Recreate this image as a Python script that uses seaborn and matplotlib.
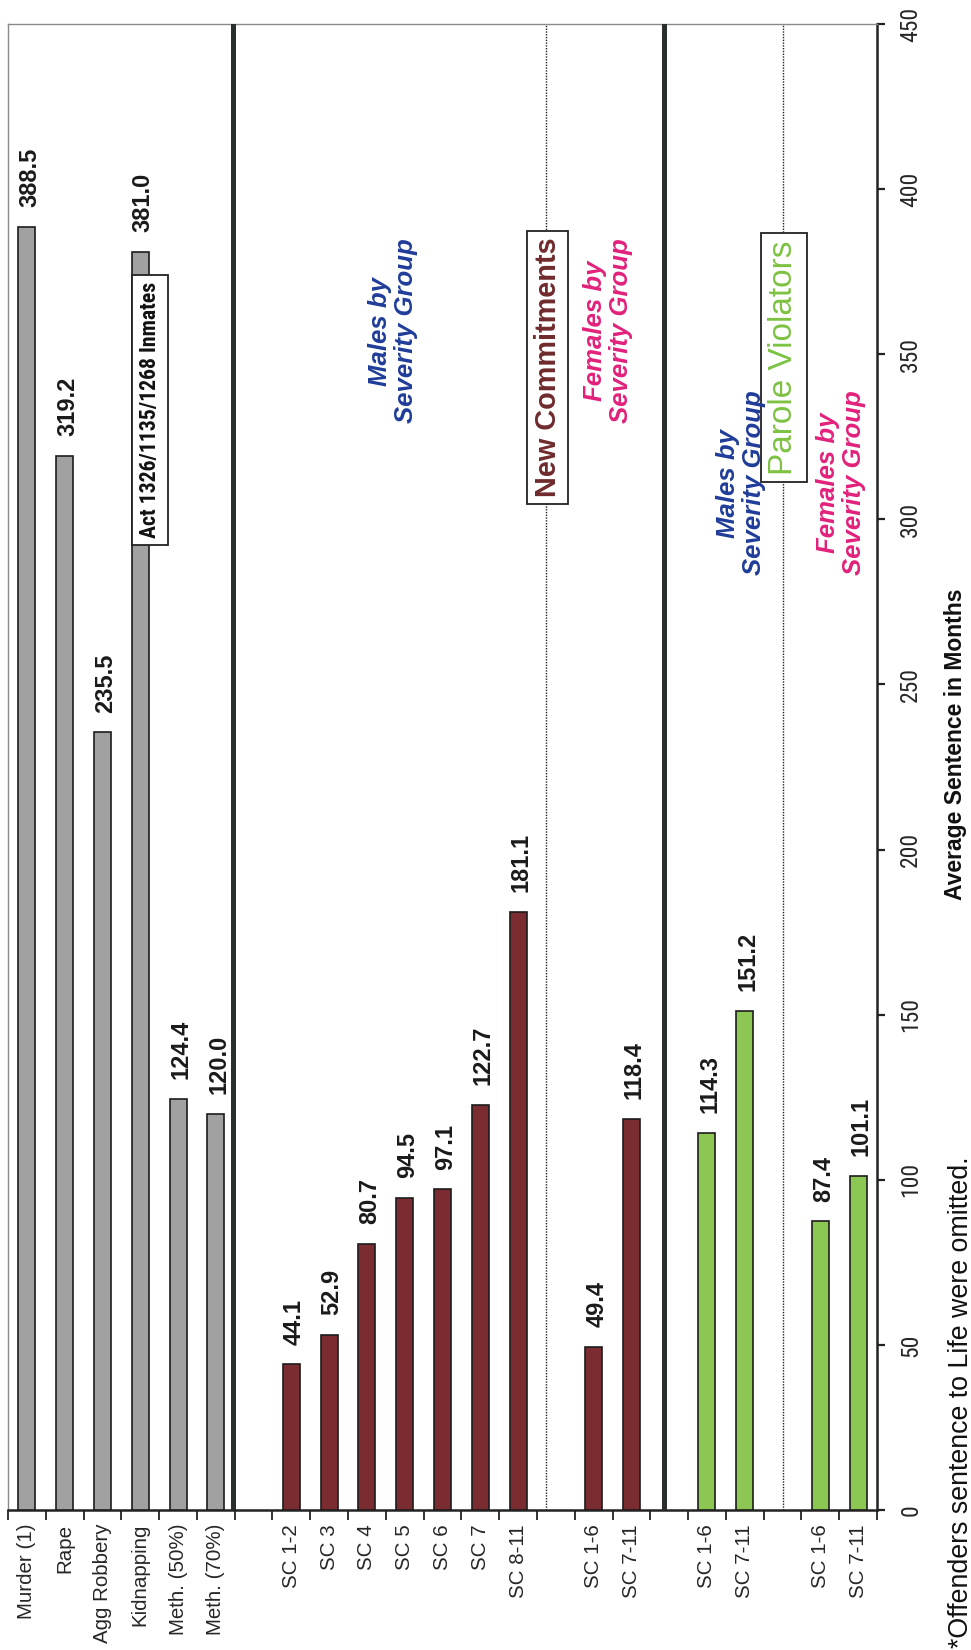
import matplotlib
matplotlib.use("Agg")
import matplotlib.pyplot as plt
from matplotlib import font_manager
import numpy as np
import pandas as pd
import seaborn as sns

# ---- data -------------------------------------------------------------
inmate_labels = ["Murder (1)", "Rape", "Agg Robbery", "Kidnapping", "Meth. (50%)", "Meth. (70%)"]
inmate_values = [388.5, 319.2, 235.5, 381.0, 124.4, 120.0]

nc_male_labels = ["SC 1-2", "SC 3", "SC 4", "SC 5", "SC 6", "SC 7", "SC 8-11"]
nc_male_values = [44.1, 52.9, 80.7, 94.5, 97.1, 122.7, 181.1]

nc_female_labels = ["SC 1-6", "SC 7-11"]
nc_female_values = [49.4, 118.4]

pv_male_labels = ["SC 1-6", "SC 7-11"]
pv_male_values = [114.3, 151.2]

pv_female_labels = ["SC 1-6", "SC 7-11"]
pv_female_values = [87.4, 101.1]

value_ticks = [0, 50, 100, 150, 200, 250, 300, 350, 400, 450]

# ---- style ------------------------------------------------------------
sns.set_style("white")
entries = font_manager.fontManager.ttflist
names = {f.name for f in entries}
BASE = "Liberation Sans" if "Liberation Sans" in names else "DejaVu Sans"
plt.rcParams["font.family"] = [BASE, "DejaVu Sans"]

# pick a condensed face for the compact labels, if one is installed
if "Liberation Sans Narrow" in names:
    narrow_kw, has_narrow = dict(family="Liberation Sans Narrow"), True
elif "Roboto Condensed" in names:
    narrow_kw, has_narrow = dict(family="Roboto Condensed"), True
elif any(f.name == "DejaVu Sans" and f.stretch == "condensed" for f in entries):
    narrow_kw, has_narrow = dict(family="DejaVu Sans", fontstretch="condensed"), True
else:
    narrow_kw, has_narrow = dict(family=BASE), False

GRAY = "#a1a1a1"
RED = "#7a2c31"
GREEN = "#8cc653"
EDGE = "#1c1c1c"

# ---- assemble bar table (one empty slot between groups) ---------------
groups = [
    ("inmates", inmate_labels, inmate_values),
    ("nc_male", nc_male_labels, nc_male_values),
    ("nc_female", nc_female_labels, nc_female_values),
    ("pv_male", pv_male_labels, pv_male_values),
    ("pv_female", pv_female_labels, pv_female_values),
]
rows = []
pos = 0
for name, labels, values in groups:
    for lab, val in zip(labels, values):
        rows.append({"pos": pos, "value": val, "label": lab, "group": name})
        pos += 1
    pos += 1
df = pd.DataFrame(rows)
n_slots = int(df["pos"].max()) + 1

palette = {"inmates": GRAY, "nc_male": RED, "nc_female": RED,
           "pv_male": GREEN, "pv_female": GREEN}

# ---- figure -----------------------------------------------------------
W, H = 971, 1650
fig = plt.figure(figsize=(W / 100, H / 100), dpi=100)
ax_left, ax_right = 8 / W, 877 / W
ax_bottom, ax_top = (H - 1510) / H, (H - 24) / H
ax = fig.add_axes([ax_left, ax_bottom, ax_right - ax_left, ax_top - ax_bottom])

sns.barplot(data=df, x="pos", y="value", hue="group", palette=palette,
            native_scale=True, dodge=False, width=0.45, legend=False,
            edgecolor=EDGE, linewidth=1.2, saturation=1, ax=ax, zorder=3)

ax.set_xlim(-0.5, n_slots - 0.5)
ax.set_ylim(0, 450)
ax.set_xlabel("")
ax.set_ylabel("")

# value labels above each bar
for _, r in df.iterrows():
    ax.text(r["pos"] + 0.08, r["value"] + 6, f"{r['value']:.1f}", rotation=90,
            ha="center", va="bottom", fontsize=17, fontweight="bold",
            color="#1a1a1a", zorder=4)

# section separators
for x in (5.45, 16.85):
    ax.axvline(x, color="#2a2e2e", lw=3.6, zorder=4)
for x in (13.75, 20.0):
    ax.axvline(x, color="#222222", lw=1.0, ls=(0, (1, 1)), zorder=2)

# category axis
ax.set_xticks(df["pos"].tolist())
ax.set_xticklabels(df["label"].tolist(), rotation=90, fontsize=14.8)
ax.set_xticks(np.arange(-0.5, n_slots, 1.0), minor=True)
ax.tick_params(axis="x", which="major", length=0, pad=10)
ax.tick_params(axis="x", which="minor", length=7, width=1.3, color="#222",
               direction="out", bottom=True)

# value axis on the right
ax.yaxis.tick_right()
ax.set_yticks(value_ticks)
ax.set_yticklabels([str(v) for v in value_ticks], rotation=90,
                   fontsize=17 if has_narrow else 15.3, **narrow_kw)
for t in ax.get_yticklabels():
    t.set_va("center")
ax.tick_params(axis="y", length=6, width=1.6, color="#222", direction="out", pad=10)

for side in ("right", "bottom"):
    ax.spines[side].set_color("#222")
    ax.spines[side].set_linewidth(1.8)
for side in ("left", "top"):
    ax.spines[side].set_color("#8a8a8a")
    ax.spines[side].set_linewidth(1.0)

# section captions
ax.text(3.27, 333, "Act 1326/1135/1268 Inmates", rotation=90, ha="center", va="center",
        fontsize=15.7 if has_narrow else 15.0, fontweight="bold", color="#111",
        bbox=dict(boxstyle="square,pad=0.32" if has_narrow else "square,pad=0.38",
                  fc="white", ec="#222", lw=1.3),
        zorder=6, **narrow_kw)
ax.text(13.78, 346, "New Commitments", rotation=90, ha="center", va="center",
        fontsize=20.8, fontweight="bold", color="#6f2a2c",
        bbox=dict(boxstyle="square,pad=0.22", fc="white", ec="#222", lw=1.3), zorder=6)
ax.text(20.03, 349, "Parole Violators", rotation=90, ha="center", va="center",
        fontsize=24, color="#7dc242",
        bbox=dict(boxstyle="square,pad=0.22", fc="white", ec="#222", lw=1.3), zorder=6)

BLUE = "#1f3c99"
PINK = "#e2217b"
sub = dict(rotation=90, ha="center", va="center", multialignment="center",
           fontsize=18.5, fontweight="bold", style="italic", linespacing=1.1, zorder=7)
ax.text(9.69, 357, "Males by\nSeverity Group", color=BLUE, **sub)
ax.text(15.39, 357, "Females by\nSeverity Group", color=PINK, **sub)
ax.text(18.9, 311, "Males by\nSeverity Group", color=BLUE, **sub)
ax.text(21.54, 311, "Females by\nSeverity Group", color=PINK, **sub)

# axis title and footnote
fig.text(955 / W, (H - 744) / H, "Average Sentence in Months", rotation=90,
         ha="center", va="center", fontsize=16.5, fontweight="bold", color="#111")
fig.text(961 / W, 2 / H, "*Offenders sentence to Life were omitted.", rotation=90,
         ha="center", va="bottom", fontsize=19.3, color="#111")

fig.savefig("out.png", dpi=100, facecolor="white")
